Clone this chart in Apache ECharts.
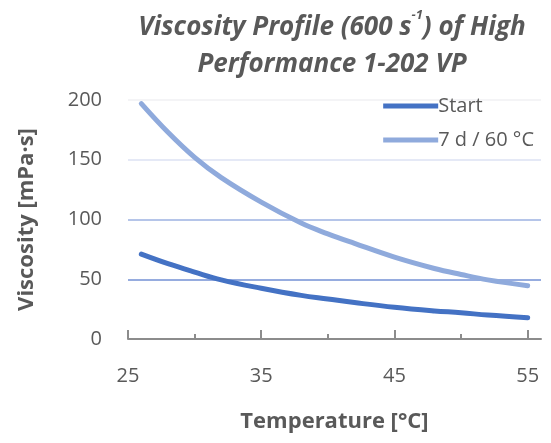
<!DOCTYPE html>
<html>
<head>
<meta charset="utf-8">
<script src="https://cdn.jsdelivr.net/npm/echarts@6/dist/echarts.min.js"></script>
<style>html,body{margin:0;padding:0;background:#fff}#c{width:551px;height:443px}</style>
</head>
<body>
<div id="c"></div>
<script>
const temps = [26, 28, 30, 32, 35, 38, 40, 42, 45, 48, 50, 52, 55];
const startVals = [71, 63, 56, 49.5, 42.5, 36.5, 33.5, 30.5, 26.5, 23.5, 22, 20, 17.8];
const agedVals = [197, 173, 152, 135, 114.5, 97, 88, 80, 68.5, 59, 54, 49.5, 44.6];
const seriesNames = ['Start', '7 d / 60 °C'];
const xTickLabels = [25, 35, 45, 55];
const xMinorTicks = [30, 40, 50];

const FONT = '"Open Sans", "DejaVu Sans", sans-serif';
const GREY = '#595959';
const chart = echarts.init(document.getElementById('c'));
chart.setOption({
  animation: false,
  backgroundColor: '#fff',
  title: {
    text: 'Viscosity Profile (600 s{sup|-1}) of High\nPerformance 1-202 VP',
    left: 327, top: 4, textAlign: 'center',
    textStyle: {
      fontFamily: FONT, fontSize: 26, fontWeight: 'bold', fontStyle: 'italic', color: GREY,
      lineHeight: 37,
      rich: { sup: { fontSize: 13, fontWeight: 'bold', fontStyle: 'italic', color: GREY, verticalAlign: 'top', padding: [0, 0, 12, 0], lineHeight: 37 } }
    }
  },
  legend: {
    right: 12, top: 91, orient: 'vertical', itemGap: 14,
    itemWidth: 55, itemHeight: 5,
    textStyle: { fontFamily: FONT, fontSize: 20, color: GREY, padding: [0, 0, 0, -5] },
    data: seriesNames.map(n => ({ name: n, icon: 'path://M0,0 L55,0 L55,5 L0,5 Z' }))
  },
  grid: { left: 128, right: 10, top: 100, bottom: 104 },
  xAxis: [{
    type: 'value', min: 25, max: 56,
    name: 'Temperature [°C]', nameLocation: 'middle', nameGap: 72,
    nameTextStyle: { fontFamily: FONT, fontSize: 22, fontWeight: 'bold', color: GREY },
    axisLine: { show: true, lineStyle: { color: '#8c8c8c', width: 2 } },
    axisTick: { show: true, inside: true, length: 9, customValues: xTickLabels, lineStyle: { color: '#8c8c8c', width: 2 } },
    axisLabel: { customValues: xTickLabels, fontFamily: FONT, fontSize: 20, color: GREY, margin: 27 },
    splitLine: { show: false }
  }, {
    type: 'value', min: 25, max: 56, position: 'bottom',
    axisLine: { show: false },
    axisTick: { show: true, inside: true, length: 5, customValues: xMinorTicks, lineStyle: { color: '#8c8c8c', width: 2 } },
    axisLabel: { show: false },
    splitLine: { show: false }
  }],
  yAxis: {
    type: 'value', min: 0, max: 200, interval: 50,
    name: 'Viscosity [mPa·s]', nameLocation: 'middle', nameGap: 90,
    nameTextStyle: { fontFamily: FONT, fontSize: 22, fontWeight: 'bold', color: GREY },
    axisLine: { show: false }, axisTick: { show: false },
    axisLabel: { fontFamily: FONT, fontSize: 20, color: GREY, margin: 26 },
    splitLine: { show: true, lineStyle: { width: 1.5, color: ['#ffffff', '#7390d4', '#9cb2e2', '#dde2f3', '#f0f0f3'] } }
  },
  series: [
    { name: seriesNames[0], type: 'line', smooth: 0.4, showSymbol: false, symbol: 'none', z: 3,
      lineStyle: { color: '#4472c4', width: 5, cap: 'round' }, itemStyle: { color: '#4472c4' },
      data: temps.map((t, i) => [t, startVals[i]]) },
    { name: seriesNames[1], type: 'line', smooth: 0.4, showSymbol: false, symbol: 'none', z: 2,
      lineStyle: { color: '#8faadc', width: 5, cap: 'round' }, itemStyle: { color: '#8faadc' },
      data: temps.map((t, i) => [t, agedVals[i]]) }
  ]
});
</script>
</body>
</html>
